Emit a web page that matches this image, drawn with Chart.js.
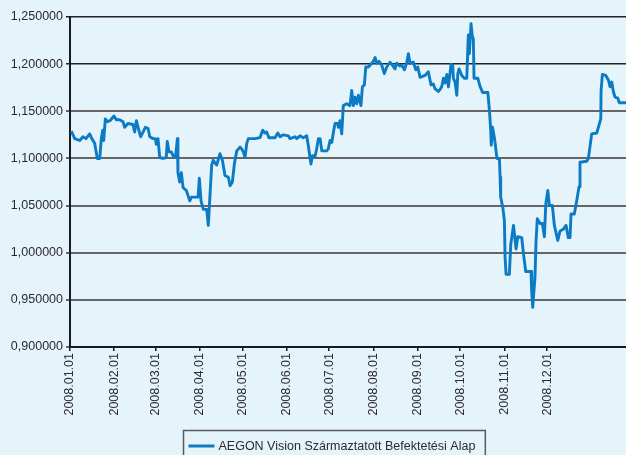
<!DOCTYPE html>
<html>
<head>
<meta charset="utf-8">
<script src="https://cdn.jsdelivr.net/npm/chart.js@4.4.0/dist/chart.umd.min.js"></script>
<style>
  html, body { margin: 0; padding: 0; background: #E5F3FA; overflow: hidden; }
  #wrap { width: 626px; height: 455px; position: relative; }
</style>
</head>
<body>
<div id="wrap"><canvas id="c" width="626" height="455"></canvas></div>
<script>
// ---- data ----
const seriesLabel = 'AEGON Vision Származtatott Befektetési Alap';

// x positions: days since 2008-01-01
const monthTickDays = [0, 31, 60, 91, 121, 152, 182, 213, 244, 274, 305, 335];
const monthTickLabels = ['2008.01.01', '2008.02.01', '2008.03.01', '2008.04.01', '2008.05.01', '2008.06.01',
                         '2008.07.01', '2008.08.01', '2008.09.01', '2008.10.01', '2008.11.01', '2008.12.01'];

const dayIndex = [
  0.9, 3.3, 6.8, 9.1, 11.2, 13.8, 15.0, 17.3, 19.2, 20.9, 22.0, 23.0, 23.7, 24.8, 26.2, 28.1, 30.9, 32.5, 34.9, 37.2,
  38.4, 40.7, 44.2, 45.4, 46.6, 47.8, 49.6, 51.3, 52.9, 54.8, 56.0, 58.3, 59.9, 60.6, 61.8, 63.0, 65.3, 67.6, 68.3, 69.5,
  71.1, 73.0, 74.2, 75.4, 75.8, 77.0, 78.2, 79.4, 81.7, 84.1, 85.2, 89.9, 90.8, 92.0, 93.6, 96.0, 97.1, 98.3, 99.5, 100.6,
  103.0, 105.3, 107.0, 108.8, 111.2, 112.4, 114.0, 115.4, 117.1, 119.4, 120.6, 121.7, 122.9, 124.1, 125.2, 129.9, 133.4, 135.3, 136.8, 138.1,
  139.7, 144.0, 145.9, 147.5, 149.8, 153.3, 154.5, 158.0, 159.2, 161.5, 163.8, 166.2, 167.3, 168.5, 169.2, 170.2, 172.0, 173.2, 174.4, 175.6,
  176.8, 180.3, 181.3, 182.6, 183.8, 185.0, 186.1, 188.0, 188.4, 189.6, 190.8, 191.9, 194.3, 196.6, 197.8, 199.0, 200.1, 201.3, 202.5, 204.3,
  205.3, 206.7, 207.7, 209.5, 211.9, 213.0, 214.2, 215.4, 217.0, 218.9, 220.7, 222.4, 224.7, 225.9, 228.2, 229.4, 231.7, 232.9, 234.8, 236.5,
  237.6, 238.8, 241.1, 242.8, 244.2, 245.8, 249.3, 251.6, 253.5, 255.1, 256.3, 258.6, 259.8, 261.0, 262.2, 263.3, 264.6, 265.7, 267.6, 268.7,
  269.2, 270.4, 271.6, 272.3, 273.2, 275.1, 276.9, 278.6, 279.3, 279.7, 280.4, 281.6, 282.5, 283.2, 283.7, 286.4, 288.0, 289.7, 293.4, 294.6,
  295.3, 295.8, 296.7, 298.1, 299.8, 301.5, 302.0, 302.4, 303.9, 305.0, 305.5, 306.2, 308.5, 309.5, 311.4, 313.2, 314.4, 317.2, 318.4, 320.0,
  323.7, 324.2, 324.9, 326.5, 327.2, 328.1, 330.1, 331.7, 333.1, 334.1, 335.5, 336.6, 338.7, 340.1, 342.5, 344.1, 346.4, 348.3, 349.9, 351.1,
  351.8, 354.1, 355.8, 357.4, 358.1, 362.8, 364.0, 366.3, 369.9, 372.7, 372.9, 373.8, 376.2, 378.1, 379.2, 380.4, 381.5, 382.7, 384.6, 385.7,
  390.4
];

const navValues = [
  1.129, 1.121, 1.119, 1.123, 1.121, 1.126, 1.122, 1.116, 1.100, 1.100, 1.121, 1.130, 1.119, 1.142, 1.139, 1.140, 1.145, 1.141, 1.141, 1.139,
  1.133, 1.137, 1.136, 1.128, 1.140, 1.133, 1.123, 1.128, 1.133, 1.132, 1.123, 1.121, 1.121, 1.115, 1.121, 1.101, 1.100, 1.101, 1.118, 1.107,
  1.107, 1.101, 1.103, 1.121, 1.085, 1.075, 1.085, 1.069, 1.066, 1.055, 1.059, 1.059, 1.079, 1.055, 1.046, 1.046, 1.029, 1.061, 1.093, 1.098,
  1.093, 1.105, 1.098, 1.082, 1.080, 1.071, 1.075, 1.094, 1.108, 1.112, 1.110, 1.107, 1.101, 1.116, 1.121, 1.121, 1.122, 1.130, 1.127, 1.128,
  1.122, 1.122, 1.127, 1.123, 1.125, 1.124, 1.121, 1.123, 1.121, 1.124, 1.122, 1.124, 1.114, 1.101, 1.094, 1.103, 1.102, 1.110, 1.121, 1.121,
  1.108, 1.108, 1.110, 1.119, 1.117, 1.128, 1.137, 1.137, 1.133, 1.140, 1.126, 1.156, 1.158, 1.156, 1.172, 1.156, 1.165, 1.158, 1.167, 1.156,
  1.176, 1.178, 1.197, 1.197, 1.201, 1.203, 1.207, 1.201, 1.203, 1.199, 1.190, 1.197, 1.202, 1.200, 1.195, 1.201, 1.198, 1.199, 1.194, 1.202,
  1.211, 1.201, 1.202, 1.194, 1.197, 1.186, 1.188, 1.192, 1.178, 1.179, 1.174, 1.171, 1.173, 1.176, 1.185, 1.180, 1.189, 1.176, 1.200, 1.199,
  1.185, 1.181, 1.167, 1.190, 1.195, 1.188, 1.185, 1.185, 1.215, 1.231, 1.211, 1.243, 1.229, 1.227, 1.185, 1.185, 1.176, 1.170, 1.170, 1.149,
  1.133, 1.114, 1.133, 1.121, 1.100, 1.100, 1.080, 1.059, 1.048, 1.034, 0.995, 0.977, 0.977, 1.009, 1.029, 1.004, 1.017, 1.016, 0.999, 0.980,
  0.980, 0.958, 0.942, 0.974, 1.011, 1.036, 1.031, 1.031, 1.017, 1.052, 1.066, 1.050, 1.050, 1.029, 1.013, 1.023, 1.025, 1.029, 1.016, 1.016,
  1.041, 1.041, 1.055, 1.070, 1.096, 1.097, 1.100, 1.126, 1.127, 1.142, 1.172, 1.189, 1.188, 1.183, 1.176, 1.181, 1.171, 1.165, 1.164, 1.159,
  1.159
];

const yMin = 0.90, yMax = 1.25, yStep = 0.05;
const xMin = 0, xMax = 390.4;

// ---- styling ----
const BG = '#E5F3FA';
const LINE = '#0A7BC4';
const FONT = '"Liberation Sans", Arial, sans-serif';

const points = dayIndex.map((d, i) => ({ x: d, y: navValues[i] }));

const bgPlugin = {
  id: 'bg',
  beforeDraw(chart) {
    const ctx = chart.ctx;
    ctx.save();
    ctx.fillStyle = BG;
    ctx.fillRect(0, 0, chart.width, chart.height);
    ctx.restore();
  }
};

const boxedLegend = {
  id: 'boxedLegend',
  afterDraw(chart) {
    const ctx = chart.ctx;
    const ds = chart.data.datasets[0];
    ctx.save();
    ctx.font = '12.5px ' + FONT;
    const textW = ctx.measureText(ds.label).width;
    const sample = 26, gap = 4, padL = 5, padR = 10;
    const boxW = padL + sample + gap + textW + padR;
    const cx = 334;
    const left = Math.round(cx - boxW / 2) + 0.5;
    const top = 430.5;
    ctx.strokeStyle = '#5a5a5a';
    ctx.lineWidth = 1.5;
    ctx.strokeRect(left, top, boxW, 40);
    const midY = top + 15.5;
    ctx.strokeStyle = ds.borderColor;
    ctx.lineWidth = 3;
    ctx.beginPath();
    ctx.moveTo(left + padL, midY);
    ctx.lineTo(left + padL + sample, midY);
    ctx.stroke();
    ctx.fillStyle = '#2b2b2b';
    ctx.textBaseline = 'middle';
    ctx.textAlign = 'left';
    ctx.fillText(ds.label, left + padL + sample + gap, midY + 0.5);
    ctx.restore();
  }
};

new Chart(document.getElementById('c'), {
  type: 'line',
  data: {
    datasets: [{
      label: seriesLabel,
      data: points,
      borderColor: LINE,
      borderWidth: 2.9,
      pointRadius: 0,
      tension: 0,
      fill: false,
      borderJoinStyle: 'round'
    }]
  },
  options: {
    responsive: false,
    animation: false,
    devicePixelRatio: 1,
    layout: { padding: { top: 17, right: 0, left: 0, bottom: 0 } },
    plugins: {
      legend: { display: false },
      tooltip: { enabled: false },
      title: { display: false }
    },
    scales: {
      x: {
        type: 'linear',
        min: xMin,
        max: xMax,
        afterBuildTicks(scale) {
          scale.ticks = monthTickDays.map(v => ({ value: v }));
        },
        afterFit(scale) { scale.height = 108; },
        ticks: {
          autoSkip: false,
          minRotation: 90,
          maxRotation: 90,
          padding: 2,
          color: '#2b2b2b',
          font: { family: FONT, size: 12.5 },
          callback(value, index) { return monthTickLabels[index]; }
        },
        grid: {
          drawOnChartArea: false,
          drawTicks: true,
          tickLength: 4,
          color: '#1a1a1a',
          lineWidth: 1.5
        },
        border: { display: true, color: '#1a1a1a', width: 2 }
      },
      y: {
        min: yMin,
        max: yMax,
        afterFit(scale) { scale.width = 70; },
        ticks: {
          stepSize: yStep,
          padding: 3,
          color: '#2b2b2b',
          font: { family: FONT, size: 12.5 },
          callback(value) { return value.toFixed(6).replace('.', ','); }
        },
        grid: {
          tickLength: 4,
          color(ctx) { return (ctx.tick && ctx.tick.value >= 1.199) ? '#222222' : '#666666'; },
          lineWidth(ctx) { return (ctx.tick && ctx.tick.value >= 1.199) ? 1.5 : 2; }
        },
        border: { display: true, color: '#1a1a1a', width: 2 }
      }
    }
  },
  plugins: [bgPlugin, boxedLegend]
});
</script>
</body>
</html>
